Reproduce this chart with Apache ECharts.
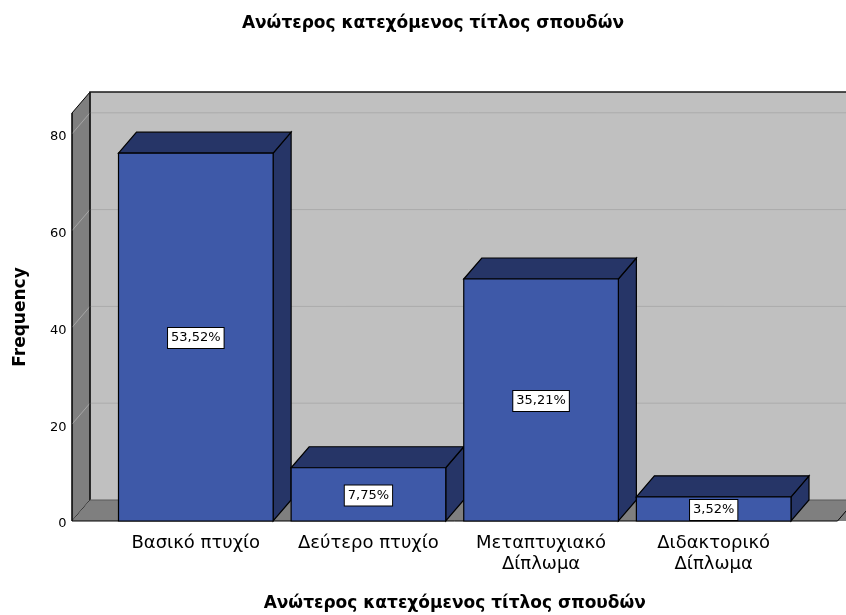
<!DOCTYPE html>
<html>
<head>
<meta charset="utf-8">
<script src="https://cdn.jsdelivr.net/npm/echarts@6/dist/echarts.min.js"></script>
<style>
  html, body { margin: 0; padding: 0; background: #ffffff; overflow: hidden; }
  #chart { width: 846px; height: 615px; }
</style>
</head>
<body>
<div id="chart"></div>
<script>
// Highest degree held: frequencies per category
const categories = ['Βασικό πτυχίο', 'Δεύτερο πτυχίο', 'Μεταπτυχιακό Δίπλωμα', 'Διδακτορικό Δίπλωμα'];
const frequencies = [76, 11, 50, 5];
const yTicks = [0, 20, 40, 60, 80];

const titleText = 'Ανώτερος κατεχόμενος τίτλος σπουδών';
const FONT = '"DejaVu Sans", sans-serif';

const total = frequencies.reduce((a, b) => a + b, 0);
const percentLabel = v => (v / total * 100).toFixed(2).replace('.', ',') + '%';

// 3D depth offset of the box look
const DX = 18;
const DY = -21;
// how far the walls reach beyond the outer bands
const WALL_PAD = 37.5;

const chart = echarts.init(document.getElementById('chart'), null, { renderer: 'canvas' });

function renderWalls(params, api) {
  const cs = params.coordSys;
  const x0 = cs.x - WALL_PAD;
  const x1 = cs.x + cs.width + WALL_PAD;
  const yTop = cs.y;
  const yBase = api.coord([0, 0])[1];
  const children = [];
  // back wall
  children.push({
    type: 'rect',
    shape: { x: x0 + DX, y: yTop + DY, width: x1 - x0 + 40, height: yBase - yTop },
    style: { fill: '#c0c0c0', stroke: null }
  });
  // left wall
  children.push({
    type: 'polygon',
    shape: { points: [[x0, yTop], [x0 + DX, yTop + DY], [x0 + DX, yBase + DY], [x0, yBase]] },
    style: { fill: '#7f7f7f', stroke: '#000', lineWidth: 1 }
  });
  // floor
  children.push({
    type: 'polygon',
    shape: { points: [[x0, yBase], [x0 + DX, yBase + DY], [x1 + DX + 40, yBase + DY], [x1 + 40, yBase]] },
    style: { fill: '#7f7f7f', stroke: null }
  });
  // grid lines on the back wall and the left wall
  yTicks.forEach(t => {
    if (t === 0) return;
    const y = api.coord([0, t])[1];
    children.push({
      type: 'line',
      shape: { x1: x0 + DX, y1: y + DY, x2: x1 + DX + 40, y2: y + DY },
      style: { stroke: '#ababab', lineWidth: 1 }
    });
    children.push({
      type: 'line',
      shape: { x1: x0, y1: y, x2: x0 + DX, y2: y + DY },
      style: { stroke: '#a6a6a6', lineWidth: 1 }
    });
  });
  // wall edges
  children.push({
    type: 'polyline',
    shape: { points: [[x0 + DX, yBase + DY], [x0 + DX, yTop + DY], [x1 + DX + 40, yTop + DY]] },
    style: { stroke: '#1a1a1a', lineWidth: 1.5, fill: null }
  });
  children.push({
    type: 'line',
    shape: { x1: x0 + DX, y1: yBase + DY, x2: x1 + DX + 40, y2: yBase + DY },
    style: { stroke: '#5a5a5a', lineWidth: 1 }
  });
  children.push({
    type: 'polyline',
    shape: { points: [[x0, yTop], [x0, yBase], [x1, yBase], [x1 + DX, yBase + DY]] },
    style: { stroke: '#000', lineWidth: 1, fill: null }
  });
  return { type: 'group', children };
}

function renderBar(params, api) {
  const idx = api.value(0);
  const v = api.value(1);
  const band = api.size([1, 0])[0];
  const w = band - DX;
  const c = api.coord([idx, 0]);
  const t = api.coord([idx, v]);
  const xl = c[0] - w / 2, xr = c[0] + w / 2;
  const yb = c[1], yt = t[1];
  const edge = { stroke: '#000', lineWidth: 1.2 };
  return {
    type: 'group',
    children: [
      {
        type: 'polygon',
        shape: { points: [[xr, yt], [xr + DX, yt + DY], [xr + DX, yb + DY], [xr, yb]] },
        style: Object.assign({ fill: '#263567' }, edge)
      },
      {
        type: 'polygon',
        shape: { points: [[xl, yt], [xl + DX, yt + DY], [xr + DX, yt + DY], [xr, yt]] },
        style: Object.assign({ fill: '#263567' }, edge)
      },
      {
        type: 'rect',
        shape: { x: xl, y: yt, width: w, height: yb - yt },
        style: Object.assign({ fill: '#3e59a8' }, edge)
      },
      {
        type: 'text',
        x: c[0],
        y: (yt + yb) / 2 + 1,
        style: {
          text: percentLabel(v),
          fill: '#000',
          font: '13px ' + FONT,
          align: 'center',
          verticalAlign: 'middle',
          backgroundColor: '#ffffff',
          borderColor: '#000',
          borderWidth: 1,
          padding: [4, 3, 3, 3]
        }
      }
    ]
  };
}

chart.setOption({
  animation: false,
  backgroundColor: '#ffffff',
  title: {
    text: titleText,
    left: 428,
    textAlign: 'center',
    top: 10,
    textStyle: { fontFamily: FONT, fontSize: 17, fontWeight: 'bold', color: '#000' }
  },
  grid: { left: 109.5, right: 46, top: 113, bottom: 94, containLabel: false, outerBoundsMode: 'none' },
  xAxis: {
    type: 'category',
    data: categories,
    name: titleText,
    nameLocation: 'middle',
    nameGap: 74,
    nameTextStyle: { fontFamily: FONT, fontSize: 17, fontWeight: 'bold', color: '#000' },
    axisLine: { show: false },
    axisTick: { show: false },
    axisLabel: {
      margin: 12,
      fontFamily: FONT,
      fontSize: 18,
      color: '#000',
      lineHeight: 21,
      interval: 0,
      formatter: s => s.replace(' Δίπλωμα', '\nΔίπλωμα')
    },
    splitLine: { show: false }
  },
  yAxis: {
    type: 'value',
    min: 0,
    max: 84.3,
    interval: 20,
    name: 'Frequency',
    nameLocation: 'middle',
    nameGap: 80,
    nameTextStyle: { fontFamily: FONT, fontSize: 17, fontWeight: 'bold', color: '#000' },
    axisLine: { show: false },
    axisTick: { show: false },
    splitLine: { show: false },
    axisLabel: {
      margin: 43,
      color: '#000',
      showMaxLabel: false,
      formatter: v => (yTicks.indexOf(v) >= 0 ? '{t|' + v + '}' : ''),
      rich: {
        t: { fontFamily: FONT, fontSize: 13, color: '#000', padding: [6, 0, 0, 0] }
      }
    }
  },
  series: [
    {
      type: 'custom',
      z: 1,
      silent: true,
      renderItem: renderWalls,
      data: [[0, 0]],
      clip: false
    },
    {
      type: 'custom',
      z: 2,
      renderItem: renderBar,
      data: frequencies.map((v, i) => [i, v]),
      encode: { x: 0, y: 1 },
      clip: false
    }
  ]
});
</script>
</body>
</html>
